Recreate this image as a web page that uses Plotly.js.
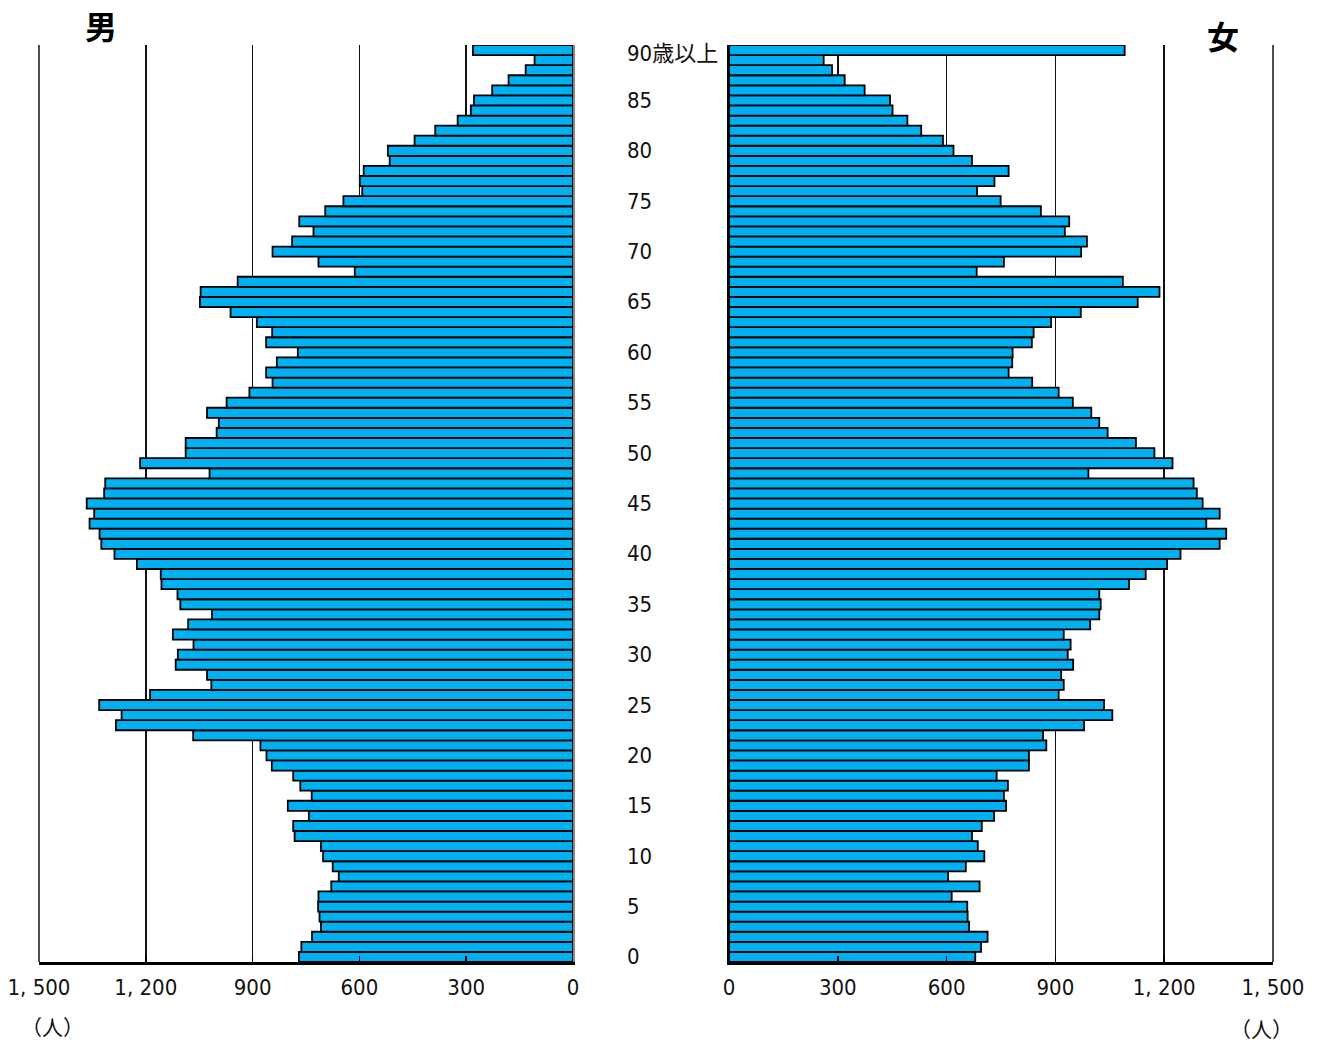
<!DOCTYPE html>
<html>
<head>
<meta charset="utf-8">
<script src="https://cdn.plot.ly/plotly-3.0.1.min.js"></script>
<style>
html,body{margin:0;padding:0;background:#fff;}
#chart{width:1318px;height:1043px;}
</style>
</head>
<body>
<div id="chart"></div>
<script>
// Ages 0 .. 90 (index 90 = "90歳以上")
const ages = Array.from({length: 91}, (_, i) => i);
const ageLabelTicks = [0,5,10,15,20,25,30,35,40,45,50,55,60,65,70,75,80,85,90];
const ageLabelText = ['0','5','10','15','20','25','30','35','40','45','50','55','60','65','70','75','80','85','90歳以上'];

const male = [
  770, 763, 733, 708, 712, 716, 715, 679, 658, 675,
  702, 708, 782, 786, 742, 801, 734, 766, 786, 846,
  861, 878, 1067, 1284, 1268, 1331, 1188, 1016, 1028, 1116,
  1110, 1066, 1124, 1081, 1014, 1103, 1111, 1156, 1158, 1225,
  1288, 1325, 1330, 1358, 1345, 1366, 1317, 1314, 1021, 1216,
  1088, 1088, 1001, 995, 1028, 973, 909, 844, 862, 832,
  773, 862, 845, 888, 962, 1048, 1046, 942, 613, 715,
  844, 789, 729, 769, 696, 645, 592, 599, 588, 515,
  520, 445, 387, 324, 287, 278, 227, 181, 133, 108,
  281
];

const female = [
  679, 695, 713, 662, 658, 657, 614, 691, 604, 653,
  704, 686, 670, 697, 731, 764, 758, 769, 738, 827,
  827, 875, 866, 979, 1057, 1034, 909, 923, 916, 949,
  934, 942, 923, 996, 1021, 1025, 1021, 1103, 1149, 1208,
  1245, 1353, 1371, 1316, 1353, 1306, 1290, 1281, 991, 1223,
  1173, 1122, 1044, 1021, 999, 948, 909, 836, 771, 781,
  782, 835, 840, 888, 970, 1127, 1187, 1086, 683, 758,
  971, 987, 926, 938, 860, 749, 684, 732, 771, 670,
  619, 590, 530, 492, 451, 444, 374, 319, 284, 261,
  1091
];

const xTickVals = [0, 300, 600, 900, 1200, 1500];
const xTickText = ['0', '300', '600', '900', '1, 200', '1, 500'];
const xMax = 1500;

const W = 1318, H = 1043;
const px = v => v / W;
const py = v => 1 - v / H;

const barColor = '#00B0F0';
const numFont = 'Liberation Sans Narrow, DejaVu Sans Condensed, Noto Sans CJK JP, sans-serif';
const cjkFont = 'Noto Sans CJK JP, sans-serif';

const traces = [
  {
    type: 'bar', orientation: 'h', x: male, y: ages,
    xaxis: 'x', yaxis: 'y',
    marker: {color: barColor, line: {color: '#000', width: 1.8}},
    hoverinfo: 'x+y', showlegend: false
  },
  {
    type: 'bar', orientation: 'h', x: female, y: ages,
    xaxis: 'x2', yaxis: 'y2',
    marker: {color: barColor, line: {color: '#000', width: 1.8}},
    hoverinfo: 'x+y', showlegend: false
  }
];

const xCommon = {
  tickmode: 'array', tickvals: xTickVals, ticktext: xTickText,
  showgrid: true, gridcolor: '#111', gridwidth: 1.5,
  zeroline: false,
  showline: true, linecolor: '#000', linewidth: 2.5,
  ticks: 'inside', ticklen: 6, tickcolor: '#000', tickwidth: 1.5,
  ticklabelstandoff: 4,
  tickfont: {family: numFont, size: 22, color: '#111'},
  fixedrange: true
};

const yDomain = [py(962), py(45)];
const leftDomain = [px(39), px(573)];
const rightDomain = [px(729), px(1273)];
const yCommon = {
  range: [-0.5, 90.5], domain: yDomain,
  showgrid: false, zeroline: false,
  showticklabels: false, ticks: '', fixedrange: true
};

const annotations = [];
ageLabelTicks.forEach((a, i) => {
  annotations.push({
    xref: 'paper', yref: 'y2', x: px(625), y: a,
    xanchor: 'left', yanchor: 'middle', showarrow: false,
    yshift: a === 90 ? -3 : 0,
    text: ageLabelText[i],
    font: {family: numFont, size: 22, color: '#111'}
  });
});
annotations.push({
  xref: 'paper', yref: 'paper', x: px(101), y: py(25),
  xanchor: 'center', yanchor: 'middle', showarrow: false,
  text: '<b>男</b>', font: {family: cjkFont, size: 32, color: '#000'}
});
annotations.push({
  xref: 'paper', yref: 'paper', x: px(1223), y: py(35),
  xanchor: 'center', yanchor: 'middle', showarrow: false,
  text: '<b>女</b>', font: {family: cjkFont, size: 32, color: '#000'}
});
annotations.push({
  xref: 'paper', yref: 'paper', x: px(52), y: py(1026),
  xanchor: 'center', yanchor: 'middle', showarrow: false,
  text: '（人）', font: {family: cjkFont, size: 21, color: '#111'}
});
annotations.push({
  xref: 'paper', yref: 'paper', x: px(1261), y: py(1028),
  xanchor: 'center', yanchor: 'middle', showarrow: false,
  text: '（人）', font: {family: cjkFont, size: 21, color: '#111'}
});

// Outer gridlines at the axis maximum (edge of each panel), drawn unclipped
const shapes = [
  {type: 'line', xref: 'paper', yref: 'paper', x0: leftDomain[0], x1: leftDomain[0], y0: yDomain[0], y1: yDomain[1],
   line: {color: '#111', width: 1.5}, layer: 'below'},
  {type: 'line', xref: 'paper', yref: 'paper', x0: rightDomain[1], x1: rightDomain[1], y0: yDomain[0], y1: yDomain[1],
   line: {color: '#111', width: 1.5}, layer: 'below'}
];

const layout = {
  width: W, height: H,
  margin: {l: 0, r: 0, t: 0, b: 0},
  paper_bgcolor: '#fff', plot_bgcolor: 'rgba(0,0,0,0)',
  bargap: 0, showlegend: false,
  xaxis: Object.assign({}, xCommon, {
    domain: leftDomain, range: [xMax, 0], anchor: 'y'
  }),
  yaxis: Object.assign({}, yCommon, {
    anchor: 'x', side: 'right', showline: true, linecolor: '#888', linewidth: 2
  }),
  xaxis2: Object.assign({}, xCommon, {
    domain: rightDomain, range: [0, xMax], anchor: 'y2'
  }),
  yaxis2: Object.assign({}, yCommon, {
    anchor: 'x2', side: 'left', showline: true, linecolor: '#000', linewidth: 2
  }),
  shapes: shapes,
  annotations: annotations
};

Plotly.newPlot('chart', traces, layout, {displayModeBar: false, staticPlot: true});
</script>
</body>
</html>
